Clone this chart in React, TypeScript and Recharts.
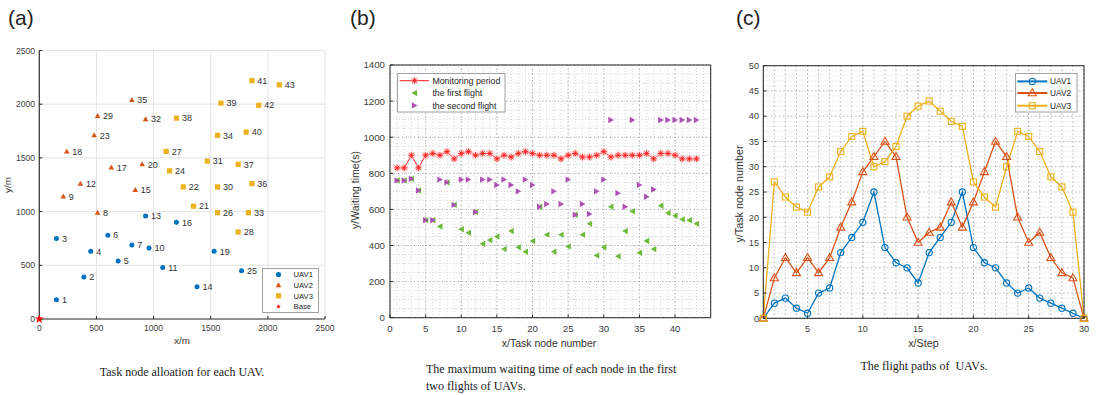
import React from 'react';
import { ScatterChart, Scatter, LineChart, Line, XAxis, YAxis, CartesianGrid } from 'recharts';

const SANS = '"Liberation Sans", Arial, Helvetica, sans-serif';
const SERIF = '"Liberation Serif", "Times New Roman", serif';

const BLUE = '#0072bd';
const ORANGE = '#d95319';
const YELLOW = '#edb120';
const GREEN = '#6cb93c';
const PURPLE = '#ad52b3';
const RED = '#ff1a1a';
const AXIS = '#262626';
const TICK_FILL = '#404040';

// (a) task nodes handed to each UAV, positions in metres
const uav1Nodes = [
  { id: 1, x: 150, y: 180 },
  { id: 2, x: 390, y: 390 },
  { id: 3, x: 150, y: 750 },
  { id: 4, x: 450, y: 630 },
  { id: 5, x: 690, y: 540 },
  { id: 6, x: 600, y: 780 },
  { id: 7, x: 810, y: 690 },
  { id: 10, x: 960, y: 660 },
  { id: 11, x: 1080, y: 480 },
  { id: 13, x: 930, y: 960 },
  { id: 14, x: 1380, y: 300 },
  { id: 16, x: 1200, y: 900 },
  { id: 19, x: 1530, y: 630 },
  { id: 25, x: 1770, y: 450 },
];
const uav2Nodes = [
  { id: 8, x: 510, y: 990 },
  { id: 9, x: 210, y: 1140 },
  { id: 12, x: 360, y: 1260 },
  { id: 15, x: 840, y: 1200 },
  { id: 17, x: 630, y: 1410 },
  { id: 18, x: 240, y: 1560 },
  { id: 20, x: 900, y: 1440 },
  { id: 23, x: 480, y: 1710 },
  { id: 29, x: 510, y: 1890 },
  { id: 32, x: 930, y: 1860 },
  { id: 35, x: 810, y: 2040 },
];
const uav3Nodes = [
  { id: 21, x: 1350, y: 1050 },
  { id: 22, x: 1260, y: 1230 },
  { id: 24, x: 1140, y: 1380 },
  { id: 26, x: 1560, y: 990 },
  { id: 27, x: 1110, y: 1560 },
  { id: 28, x: 1740, y: 810 },
  { id: 30, x: 1560, y: 1230 },
  { id: 31, x: 1470, y: 1470 },
  { id: 33, x: 1830, y: 990 },
  { id: 34, x: 1560, y: 1710 },
  { id: 36, x: 1860, y: 1260 },
  { id: 37, x: 1740, y: 1440 },
  { id: 38, x: 1200, y: 1870 },
  { id: 39, x: 1590, y: 2010 },
  { id: 40, x: 1810, y: 1740 },
  { id: 41, x: 1860, y: 2220 },
  { id: 42, x: 1920, y: 1990 },
  { id: 43, x: 2100, y: 2180 },
];
const baseNode = [{ x: 0, y: 0 }];
const aTicks = [0, 500, 1000, 1500, 2000, 2500];

// (b) waiting time per task node
const taskNodes = [1, 2, 3, 4, 5, 6, 7, 8, 9, 10, 11, 12, 13, 14, 15, 16, 17, 18, 19, 20, 21, 22,
  23, 24, 25, 26, 27, 28, 29, 30, 31, 32, 33, 34, 35, 36, 37, 38, 39, 40, 41, 42, 43];
const monitoringPeriod = [830, 830, 900, 830, 900, 910, 900, 920, 880, 910, 920, 900, 910, 910, 880,
  900, 890, 910, 920, 910, 900, 900, 900, 880, 900, 910, 890, 890, 900, 920, 890, 900, 900, 900,
  900, 910, 880, 910, 910, 900, 880, 880, 880];
const firstFlight = [760, 760, 770, 705, 540, 540, 505, 750, 625, 490, 470, 585, 410, 430, 450, 380,
  480, 390, 365, 425, 615, 460, 365, 460, 395, 570, 460, 520, 345, 390, 615, 340, 480, 590, 360,
  425, 380, 620, 580, 565, 545, 540, 520];
const secondFlight = [760, 760, 770, 705, 540, 540, 765, 750, 625, 765, 765, 585, 765, 765, 735, 765,
  735, 700, 765, 735, 615, 630, 700, 630, 765, 570, 630, 575, 700, 765, 1095, 690, 615, 1095, 735,
  670, 710, 1095, 1095, 1095, 1095, 1095, 1095];
const bXTicks = [0, 5, 10, 15, 20, 25, 30, 35, 40];
const bYTicks = [0, 200, 400, 600, 800, 1000, 1200, 1400];

// (c) flight paths
const steps = [1, 2, 3, 4, 5, 6, 7, 8, 9, 10, 11, 12, 13, 14, 15, 16, 17, 18, 19, 20, 21, 22, 23,
  24, 25, 26, 27, 28, 29, 30];
const uav1Path = [0, 3, 4, 2, 1, 5, 6, 13, 16, 19, 25, 14, 11, 10, 7, 13, 16, 19, 25, 14, 11, 10, 7,
  5, 6, 4, 3, 2, 1, 0];
const uav2Path = [0, 8, 12, 9, 12, 9, 12, 18, 23, 29, 32, 35, 32, 20, 15, 17, 18, 23, 18, 23, 29, 35,
  32, 20, 15, 17, 12, 9, 8, 0];
const uav3Path = [0, 27, 24, 22, 21, 26, 28, 33, 36, 37, 30, 31, 34, 40, 42, 43, 41, 39, 38, 27, 24,
  22, 30, 37, 36, 33, 28, 26, 21, 0];
const cXTicks = [5, 10, 15, 20, 25, 30];
const cYTicks = [0, 5, 10, 15, 20, 25, 30, 35, 40, 45, 50];

const bRows = taskNodes.map((n, i) => ({
  node: n,
  period: monitoringPeriod[i],
  first: firstFlight[i],
  second: secondFlight[i],
}));
const cRows = steps.map((s, i) => ({ step: s, uav1: uav1Path[i], uav2: uav2Path[i], uav3: uav3Path[i] }));

// grid line positions only
const range = (a: number, b: number, step: number) => {
  const out: number[] = [];
  for (let v = a; v <= b + 1e-9; v += step) out.push(v);
  return out;
};

// ---- marker shapes ----
const starPath = (cx: number, cy: number, ro: number, ri: number) => {
  let d = '';
  for (let k = 0; k < 10; k++) {
    const r = k % 2 === 0 ? ro : ri;
    const a = -Math.PI / 2 + (k * Math.PI) / 5;
    d += `${k === 0 ? 'M' : 'L'}${cx + r * Math.cos(a)},${cy + r * Math.sin(a)}`;
  }
  return d + 'Z';
};
const upTri = (cx: number, cy: number, h: number, w: number) =>
  `${cx},${cy - h * 0.6} ${cx + w / 2},${cy + h * 0.4} ${cx - w / 2},${cy + h * 0.4}`;

const nodeLabel = (p: any) => (
  <text x={p.cx + 5.5} y={p.cy + 3.2} fontSize={9} fontFamily={SANS} fill="#333">
    {p.payload?.id ?? p.id}
  </text>
);
const circleNode = (p: any) => (
  <g>
    <circle cx={p.cx} cy={p.cy} r={2.5} fill={BLUE} />
    {nodeLabel(p)}
  </g>
);
const triNode = (p: any) => (
  <g>
    <polygon points={upTri(p.cx, p.cy, 5, 5.6)} fill={ORANGE} />
    {nodeLabel(p)}
  </g>
);
const squareNode = (p: any) => (
  <g>
    <rect x={p.cx - 2.6} y={p.cy - 2.6} width={5.2} height={5.2} fill={YELLOW} />
    {nodeLabel(p)}
  </g>
);
const baseShape = (p: any) => <path d={starPath(p.cx, p.cy, 4.8, 1.9)} fill="#ff0000" />;

const asterisk = (cx: number, cy: number, key?: string) => {
  const s = 3;
  const d = 2.1;
  return (
    <g key={key}>
      <circle cx={cx} cy={cy} r={4} fill="#fcc4c4" opacity={0.6} />
      <path
        d={`M${cx - s},${cy}H${cx + s}M${cx},${cy - s}V${cy + s}M${cx - d},${cy - d}L${cx + d},${cy + d}M${cx - d},${cy + d}L${cx + d},${cy - d}`}
        stroke={RED}
        strokeWidth={0.9}
      />
    </g>
  );
};
const leftTri = (cx: number, cy: number, key?: string) => (
  <polygon key={key} points={`${cx - 3},${cy} ${cx + 2.6},${cy - 3.2} ${cx + 2.6},${cy + 3.2}`} fill={GREEN} />
);
const rightTri = (cx: number, cy: number, key?: string) => (
  <polygon key={key} points={`${cx + 3},${cy} ${cx - 2.6},${cy - 3.2} ${cx - 2.6},${cy + 3.2}`} fill={PURPLE} />
);

const hollowCircle = (color: string) => (p: any) => (
  <circle key={`c${p.index}`} cx={p.cx} cy={p.cy} r={3.1} fill="none" stroke={color} strokeWidth={1.1} />
);
const hollowTri = (color: string) => (p: any) => (
  <polygon key={`t${p.index}`} points={upTri(p.cx, p.cy, 7, 8)} fill="none" stroke={color} strokeWidth={1.1} />
);
const hollowSquare = (color: string) => (p: any) => (
  <rect key={`s${p.index}`} x={p.cx - 3} y={p.cy - 3} width={6} height={6} fill="none" stroke={color} strokeWidth={1.1} />
);

const axisStyle = {
  axisLine: { stroke: AXIS, strokeWidth: 1 },
  tickLine: { stroke: AXIS, strokeWidth: 1 },
  tickSize: -3,
  interval: 0 as const,
};
const tickFont = (size: number) => ({ fill: TICK_FILL, fontSize: size, fontFamily: SANS });

const Txt = ({ x, y, size, children, family = SANS, rotate = false, color = '#333' }: any) => (
  <div
    style={{
      position: 'absolute',
      left: x,
      top: y,
      transform: `translate(-50%, -50%)${rotate ? ' rotate(-90deg)' : ''}`,
      fontSize: size,
      fontFamily: family,
      color,
      lineHeight: 1,
      whiteSpace: 'pre',
    }}
  >
    {children}
  </div>
);

const PanelA = () => (
  <div style={{ position: 'absolute', left: 0, top: 0 }}>
    <ScatterChart width={340} height={395} margin={{ top: 50.5, right: 15, bottom: 56, left: 9.3 }}>
      <CartesianGrid stroke="#e4e4e4" />
      <XAxis
        type="number"
        dataKey="x"
        domain={[0, 2500]}
        ticks={aTicks}
        height={20}
        tickMargin={9.2}
        tick={tickFont(8.6)}
        {...axisStyle}
        axisLine={{ stroke: '#333', strokeWidth: 1.2 }}
      />
      <YAxis
        type="number"
        dataKey="y"
        domain={[0, 2500]}
        ticks={aTicks}
        width={30}
        tickMargin={7.3}
        tick={tickFont(8.6)}
        {...axisStyle}
        axisLine={{ stroke: '#333', strokeWidth: 1.2 }}
      />
      <Scatter data={uav1Nodes} shape={circleNode} isAnimationActive={false} />
      <Scatter data={uav2Nodes} shape={triNode} isAnimationActive={false} />
      <Scatter data={uav3Nodes} shape={squareNode} isAnimationActive={false} />
      <Scatter data={baseNode} shape={baseShape} isAnimationActive={false} />
    </ScatterChart>
    <svg style={{ position: 'absolute', left: 261.5, top: 268 }} width={57} height={45}>
      <rect x={0.5} y={0.5} width={56} height={44} fill="#fff" stroke="#a0a0a0" />
      <circle cx={16.5} cy={6.5} r={2.6} fill={BLUE} />
      <polygon points={upTri(16.5, 17.2, 5, 5.6)} fill={ORANGE} />
      <rect x={13.9} y={25.2} width={5.2} height={5.2} fill={YELLOW} />
      <path d={starPath(16.5, 38.6, 2.4, 1)} fill="#ff0000" />
      {['UAV1', 'UAV2', 'UAV3', 'Base'].map((t, i) => (
        <text key={t} x={31.5} y={[6.5, 17.2, 27.8, 38.6][i] + 2.8} fontSize={7.7} fontFamily={SANS} fill="#262626">
          {t}
        </text>
      ))}
    </svg>
  </div>
);

const PanelB = () => (
  <div style={{ position: 'absolute', left: 340, top: 0 }}>
    <LineChart width={380} height={395} data={bRows} margin={{ top: 64, right: 8.3, bottom: 57.3, left: 16 }}>
      <CartesianGrid
        horizontalValues={range(0, 1400, 50)}
        verticalValues={range(0, 45, 1)}
        stroke="#d4d4d4"
        strokeDasharray="1 2"
      />
      <CartesianGrid stroke="#a8a8a8" strokeDasharray="1 3" />
      <XAxis
        type="number"
        dataKey="node"
        domain={[0, 45]}
        ticks={bXTicks}
        height={20}
        tickMargin={10.2}
        tick={tickFont(9.7)}
        {...axisStyle}
      />
      <XAxis xAxisId="top" orientation="top" type="number" domain={[0, 45]} ticks={bXTicks} height={1} tick={false} allowDataOverflow {...axisStyle} />
      <YAxis type="number" domain={[0, 1400]} ticks={bYTicks} width={34} tickMargin={8} tick={tickFont(9.7)} {...axisStyle} />
      <YAxis yAxisId="right" orientation="right" type="number" domain={[0, 1400]} ticks={bYTicks} width={1} tick={false} allowDataOverflow {...axisStyle} />
      <Line
        dataKey="first"
        stroke="none"
        dot={(p: any) => leftTri(p.cx, p.cy, `f${p.index}`)}
        activeDot={false}
        isAnimationActive={false}
      />
      <Line
        dataKey="second"
        stroke="none"
        dot={(p: any) => rightTri(p.cx, p.cy, `s${p.index}`)}
        activeDot={false}
        isAnimationActive={false}
      />
      <Line
        dataKey="period"
        stroke={RED}
        strokeWidth={1}
        dot={(p: any) => asterisk(p.cx, p.cy, `p${p.index}`)}
        activeDot={false}
        isAnimationActive={false}
      />
    </LineChart>
    <svg style={{ position: 'absolute', left: 57, top: 73.3 }} width={109} height={40}>
      <rect x={0.5} y={0.5} width={107.5} height={38.5} fill="#fff" stroke="#a0a0a0" />
      <line x1={2.7} x2={32} y1={7.7} y2={7.7} stroke={RED} strokeWidth={1} />
      {asterisk(17.5, 7.7)}
      {leftTri(17.5, 20)}
      {rightTri(17.5, 32.4)}
      {['Monitoring period', 'the first flight', 'the second flight'].map((t, i) => (
        <text key={t} x={35.4} y={[7.7, 20, 32.4][i] + 3.1} fontSize={8.8} fontFamily={SANS} fill="#262626">
          {t}
        </text>
      ))}
    </svg>
  </div>
);

const PanelC = () => (
  <div style={{ position: 'absolute', left: 700, top: 0 }}>
    <LineChart width={399} height={395} data={cRows} margin={{ top: 64.7, right: 14, bottom: 56.7, left: 33.3 }}>
      <CartesianGrid horizontalValues={range(0, 50, 1)} vertical={false} stroke="#dadada" strokeDasharray="1 2" />
      <CartesianGrid verticalValues={range(1, 30, 1)} horizontal={false} stroke="#9a9a9a" strokeDasharray="1 3" />
      <CartesianGrid stroke="#a8a8a8" strokeDasharray="1 3" />
      <XAxis
        type="number"
        dataKey="step"
        domain={[1, 30]}
        ticks={cXTicks}
        height={20}
        tickMargin={9.8}
        tick={tickFont(9.2)}
        {...axisStyle}
      />
      <XAxis xAxisId="top" orientation="top" type="number" domain={[1, 30]} ticks={cXTicks} height={1} tick={false} allowDataOverflow {...axisStyle} />
      <YAxis type="number" domain={[0, 50]} ticks={cYTicks} width={30} tickMargin={7.3} tick={tickFont(9.2)} {...axisStyle} />
      <YAxis yAxisId="right" orientation="right" type="number" domain={[0, 50]} ticks={cYTicks} width={1} tick={false} allowDataOverflow {...axisStyle} />
      <Line dataKey="uav1" stroke={BLUE} strokeWidth={1.3} dot={hollowCircle(BLUE)} activeDot={false} isAnimationActive={false} />
      <Line dataKey="uav2" stroke={ORANGE} strokeWidth={1.3} dot={hollowTri(ORANGE)} activeDot={false} isAnimationActive={false} />
      <Line dataKey="uav3" stroke={YELLOW} strokeWidth={1.3} dot={hollowSquare(YELLOW)} activeDot={false} isAnimationActive={false} />
    </LineChart>
    <svg style={{ position: 'absolute', left: 315, top: 73.3 }} width={63} height={40}>
      <rect x={0.5} y={0.5} width={61.5} height={38.5} fill="#fff" stroke="#a0a0a0" />
      <line x1={2.3} x2={32.3} y1={8.4} y2={8.4} stroke={BLUE} strokeWidth={2} />
      <circle cx={17.3} cy={8.4} r={3.1} fill="none" stroke={BLUE} strokeWidth={1.1} />
      <line x1={2.3} x2={32.3} y1={20} y2={20} stroke={ORANGE} strokeWidth={2} />
      <polygon points={upTri(17.3, 20, 7, 8)} fill="none" stroke={ORANGE} strokeWidth={1.1} />
      <line x1={2.3} x2={32.3} y1={32.7} y2={32.7} stroke={YELLOW} strokeWidth={2} />
      <rect x={14.3} y={29.7} width={6} height={6} fill="none" stroke={YELLOW} strokeWidth={1.1} />
      {['UAV1', 'UAV2', 'UAV3'].map((t, i) => (
        <text key={t} x={35} y={[8.4, 20, 32.7][i] + 3} fontSize={8.3} fontFamily={SANS} fill="#262626">
          {t}
        </text>
      ))}
    </svg>
  </div>
);

export default function App() {
  return (
    <div style={{ position: 'absolute', left: 0, top: 0, width: 1099, height: 395, background: '#fff', overflow: 'hidden' }}>
      <PanelA />
      <PanelB />
      <PanelC />

      <div style={{ position: 'absolute', left: 8, top: 7, fontSize: 21, fontFamily: SANS, color: '#222', lineHeight: 1 }}>(a)</div>
      <div style={{ position: 'absolute', left: 350, top: 7, fontSize: 21, fontFamily: SANS, color: '#222', lineHeight: 1 }}>(b)</div>
      <div style={{ position: 'absolute', left: 736, top: 7, fontSize: 21, fontFamily: SANS, color: '#222', lineHeight: 1 }}>(c)</div>

      <Txt x={182} y={341} size={9.9}>x/m</Txt>
      <Txt x={8} y={185} size={9.9} rotate>y/m</Txt>
      <Txt x={549} y={343} size={10.5}>x/Task node number</Txt>
      <Txt x={355} y={190} size={10.5} rotate>y/Waiting time(s)</Txt>
      <Txt x={923.5} y={343} size={10.8}>x/Step</Txt>
      <Txt x={739} y={194} size={10.8} rotate>y/Task node number</Txt>

      <Txt x={182} y={372} size={12} family={SERIF} color="#1a1a1a">Task node alloation for each UAV.</Txt>
      <div style={{ position: 'absolute', left: 426, top: 360.5, fontSize: 12, fontFamily: SERIF, color: '#1a1a1a', lineHeight: '17px', whiteSpace: 'nowrap' }}>
        The maximum waiting time of each node in the first
        <br />
        two flights of UAVs.
      </div>
      <Txt x={924} y={366} size={12} family={SERIF} color="#1a1a1a">The flight paths of  UAVs.</Txt>
    </div>
  );
}
